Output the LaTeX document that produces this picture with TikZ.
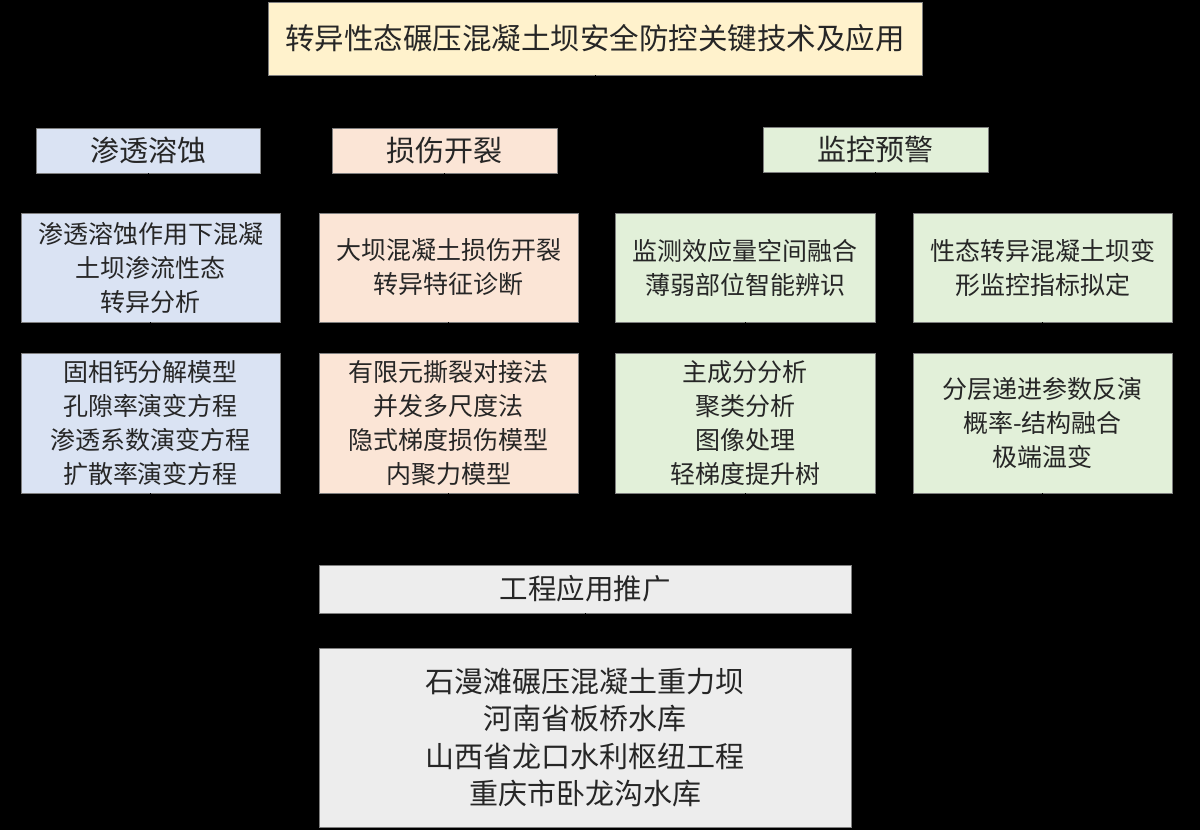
\documentclass[tikz,border=0pt]{standalone}
\usepackage{fontspec}
\setmainfont{Noto Sans CJK SC}
\usetikzlibrary{arrows.meta}
\definecolor{ctitle}{HTML}{FFF2CC}
\definecolor{cblue}{HTML}{DAE3F3}
\definecolor{corange}{HTML}{FBE5D6}
\definecolor{cgreen}{HTML}{E2F0D9}
\definecolor{cgray}{HTML}{EDEDED}
\definecolor{cedge}{HTML}{7F7F7F}
\definecolor{ctext}{HTML}{262626}
\tikzset{
  box/.style={draw=cedge, line width=0.8pt, inner sep=0pt, align=center, text=ctext, anchor=center},
  bigtxt/.style={font=\fontsize{29}{37}\selectfont},
  midtxt/.style={font=\fontsize{25}{34}\selectfont},
  conn/.style={draw=black, line width=1pt, -{Stealth[length=8pt]}}
}
\begin{document}
\begin{tikzpicture}[x=1pt,y=1pt]
\fill[black] (0,0) rectangle (1200,-830);
\useasboundingbox (0,0) rectangle (1200,-830);
% title
\node[box, fill=ctitle, minimum width=654pt, minimum height=73pt, font=\fontsize{29.5}{34}\selectfont] (title) at (595,-38.5) {转异性态碾压混凝土坝安全防控关键技术及应用};
% categories
\node[box, fill=cblue, minimum width=224pt, minimum height=45pt, bigtxt] (cat1) at (148,-150.5) {渗透溶蚀};
\node[box, fill=corange, minimum width=225pt, minimum height=45pt, bigtxt] (cat2) at (444.5,-150.5) {损伤开裂};
\node[box, fill=cgreen, minimum width=225pt, minimum height=45pt, bigtxt] (cat3) at (875.5,-149.5) {监控预警};
% sub topics
\node[box, fill=cblue, minimum width=259pt, minimum height=109pt, midtxt] (sub1) at (150.5,-267.5) {渗透溶蚀作用下混凝\\土坝渗流性态\\转异分析};
\node[box, fill=corange, minimum width=259pt, minimum height=109pt, midtxt] (sub2) at (448.5,-267.5) {大坝混凝土损伤开裂\\转异特征诊断};
\node[box, fill=cgreen, minimum width=260pt, minimum height=109pt, midtxt] (sub3) at (745,-267.5) {监测效应量空间融合\\薄弱部位智能辨识};
\node[box, fill=cgreen, minimum width=259pt, minimum height=109pt, midtxt] (sub4) at (1042.5,-267.5) {性态转异混凝土坝变\\形监控指标拟定};
% methods
\node[box, fill=cblue, minimum width=259pt, minimum height=140pt, midtxt] (m1) at (150.5,-423) {固相钙分解模型\\孔隙率演变方程\\渗透系数演变方程\\扩散率演变方程};
\node[box, fill=corange, minimum width=259pt, minimum height=140pt, midtxt] (m2) at (448.5,-423) {有限元撕裂对接法\\并发多尺度法\\隐式梯度损伤模型\\内聚力模型};
\node[box, fill=cgreen, minimum width=260pt, minimum height=140pt, midtxt] (m3) at (745,-423) {主成分分析\\聚类分析\\图像处理\\轻梯度提升树};
\node[box, fill=cgreen, minimum width=259pt, minimum height=140pt, midtxt] (m4) at (1042.5,-423) {分层递进参数反演\\概率-结构融合\\极端温变};
% engineering
\node[box, fill=cgray, minimum width=532pt, minimum height=48pt, font=\fontsize{28.5}{34}\selectfont] (eng) at (585,-589) {工程应用推广};
\node[box, fill=cgray, minimum width=532pt, minimum height=179pt, font=\fontsize{29}{37.5}\selectfont] (list) at (585,-737.5) {石漫滩碾压混凝土重力坝\\河南省板桥水库\\山西省龙口水利枢纽工程\\重庆市卧龙沟水库};
% connectors (black, as in the reference)
\draw[conn] (title.south) -- ++(0,-26) -| (cat1.north);
\draw[conn] (title.south) -- ++(0,-26) -| (cat2.north);
\draw[conn] (title.south) -- ++(0,-26) -| (cat3.north);
\draw[conn] (cat1.south) -- (cat1.south |- sub1.north);
\draw[conn] (cat2.south) -- (cat2.south |- sub2.north);
\draw[conn] (cat3.south) -- ++(0,-20) -| (sub3.north);
\draw[conn] (cat3.south) -- ++(0,-20) -| (sub4.north);
\draw[conn] (sub1) -- (m1);
\draw[conn] (sub2) -- (m2);
\draw[conn] (sub3) -- (m3);
\draw[conn] (sub4) -- (m4);
\draw[conn] (m1.south) -- ++(0,-36) -| (eng.north);
\draw[conn] (m2.south) -- ++(0,-36) -| (eng.north);
\draw[conn] (m3.south) -- ++(0,-36) -| (eng.north);
\draw[conn] (m4.south) -- ++(0,-36) -| (eng.north);
\draw[conn] (eng) -- (list);
\end{tikzpicture}
\end{document}
